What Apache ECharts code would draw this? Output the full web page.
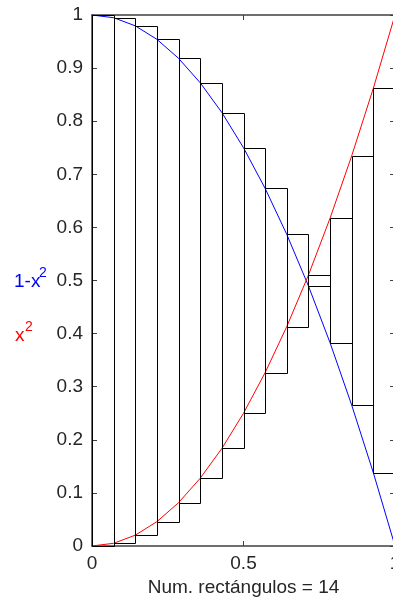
<!DOCTYPE html>
<html>
<head>
<meta charset="utf-8">
<script src="https://cdn.jsdelivr.net/npm/echarts@6/dist/echarts.min.js"></script>
<style>
html,body{margin:0;padding:0;background:#fff;}
#chart{width:393px;height:600px;}
</style>
</head>
<body>
<div id="chart"></div>
<script>
// Sample points of the curves (x = k/14)
var xs = [0, 0.0714, 0.1429, 0.2143, 0.2857, 0.3571, 0.4286, 0.5, 0.5714, 0.6429, 0.7143, 0.7857, 0.8571, 0.9286, 1];
var redVals = [0, 0.0051, 0.0204, 0.0459, 0.0816, 0.1276, 0.1837, 0.25, 0.3265, 0.4133, 0.5102, 0.6173, 0.7347, 0.8622, 1];
var blueVals = [1, 0.9949, 0.9796, 0.9541, 0.9184, 0.8724, 0.8163, 0.75, 0.6735, 0.5867, 0.4898, 0.3827, 0.2653, 0.1378, 0];

// Rectangles (left edge, right edge, lower value, upper value)
var rectLeft = [0, 0.0714, 0.1429, 0.2143, 0.2857, 0.3571, 0.4286, 0.5, 0.5714, 0.6429, 0.7143, 0.7857, 0.8571, 0.9286];
var rectRight = [0.0714, 0.1429, 0.2143, 0.2857, 0.3571, 0.4286, 0.5, 0.5714, 0.6429, 0.7143, 0.7857, 0.8571, 0.9286, 1];
var rectLo = [0, 0.0051, 0.0204, 0.0459, 0.0816, 0.1276, 0.1837, 0.25, 0.3265, 0.4133, 0.4898, 0.3827, 0.2653, 0.1378];
var rectHi = [1, 0.9949, 0.9796, 0.9541, 0.9184, 0.8724, 0.8163, 0.75, 0.6735, 0.5867, 0.5102, 0.6173, 0.7347, 0.8622];

var xTickLabels = ['0', '0.5', '1'];
var yTickLabels = ['0', '0.1', '0.2', '0.3', '0.4', '0.5', '0.6', '0.7', '0.8', '0.9', '1'];
var xTitle = 'Num. rectángulos = 14';

var chart = echarts.init(document.getElementById('chart'), null, {renderer: 'canvas'});

var FONT = '"Liberation Sans", Arial, sans-serif';
var AX = '#404040';

var redData = xs.map(function (x, i) { return [x, redVals[i]]; });
var blueData = xs.map(function (x, i) { return [x, blueVals[i]]; });
var rectData = rectLeft.map(function (l, i) { return [l, rectRight[i], rectLo[i], rectHi[i]]; });

var option = {
  animation: false,
  backgroundColor: '#fff',
  grid: {left: 92, right: -2, top: 15, bottom: 54, containLabel: false, outerBoundsMode: 'none'},
  xAxis: [{
    type: 'value', min: 0, max: 1, interval: 0.5, position: 'bottom',
    name: xTitle, nameLocation: 'middle', nameGap: 30,
    nameTextStyle: {fontFamily: FONT, fontSize: 19, color: '#262626'},
    axisLine: {show: true, lineStyle: {color: AX, width: 1.5}},
    axisTick: {show: true, inside: true, length: 5, lineStyle: {color: AX, width: 1}},
    axisLabel: {show: true, margin: 8, fontFamily: FONT, fontSize: 19, color: '#262626',
      formatter: function (v, i) { return xTickLabels[i]; }},
    splitLine: {show: false}
  }, {
    type: 'value', min: 0, max: 1, interval: 0.5, position: 'top',
    axisLine: {show: true, onZero: false, lineStyle: {color: AX, width: 1.5}},
    axisTick: {show: true, inside: true, length: 5, lineStyle: {color: AX, width: 1}},
    axisLabel: {show: false},
    splitLine: {show: false}
  }],
  yAxis: [{
    type: 'value', min: 0, max: 1, interval: 0.1, position: 'left',
    axisLine: {show: true, onZero: false, lineStyle: {color: AX, width: 1.5}},
    axisTick: {show: true, inside: true, length: 5, lineStyle: {color: AX, width: 1}},
    axisLabel: {show: true, margin: 9, fontFamily: FONT, fontSize: 19, color: '#262626',
      formatter: function (v, i) { return yTickLabels[i]; }},
    splitLine: {show: false}
  }, {
    type: 'value', min: 0, max: 1, interval: 0.1, position: 'right',
    axisLine: {show: true, onZero: false, lineStyle: {color: AX, width: 1.5}},
    axisTick: {show: true, inside: true, length: 5, lineStyle: {color: AX, width: 1}},
    axisLabel: {show: false},
    splitLine: {show: false}
  }],
  graphic: [
    {type: 'text', left: 14, top: 272, style: {text: '1-x', fontFamily: FONT, fontSize: 19, fill: '#0000ff'}},
    {type: 'text', left: 39, top: 266, style: {text: '2', fontFamily: FONT, fontSize: 14, fill: '#0000ff'}},
    {type: 'text', left: 15, top: 326, style: {text: 'x', fontFamily: FONT, fontSize: 19, fill: '#ff0000'}},
    {type: 'text', left: 25, top: 320, style: {text: '2', fontFamily: FONT, fontSize: 14, fill: '#ff0000'}}
  ],
  series: [{
    type: 'line', data: blueData, showSymbol: false, symbol: 'none',
    lineStyle: {color: '#0000ff', width: 1}, z: 2
  }, {
    type: 'line', data: redData, showSymbol: false, symbol: 'none',
    lineStyle: {color: '#ff0000', width: 1}, z: 2
  }, {
    type: 'custom', z: 3,
    data: rectData,
    renderItem: function (params, api) {
      var p0 = api.coord([api.value(0), api.value(3)]);
      var p1 = api.coord([api.value(1), api.value(2)]);
      return {
        type: 'rect',
        shape: {x: Math.round(p0[0]) + 0.5, y: Math.round(p0[1]) + 0.5,
                width: Math.round(p1[0]) - Math.round(p0[0]), height: Math.round(p1[1]) - Math.round(p0[1])},
        style: {fill: 'none', stroke: '#000', lineWidth: 1}
      };
    },
    encode: {x: [0, 1], y: [2, 3]}
  }]
};
chart.setOption(option);
</script>
</body>
</html>
